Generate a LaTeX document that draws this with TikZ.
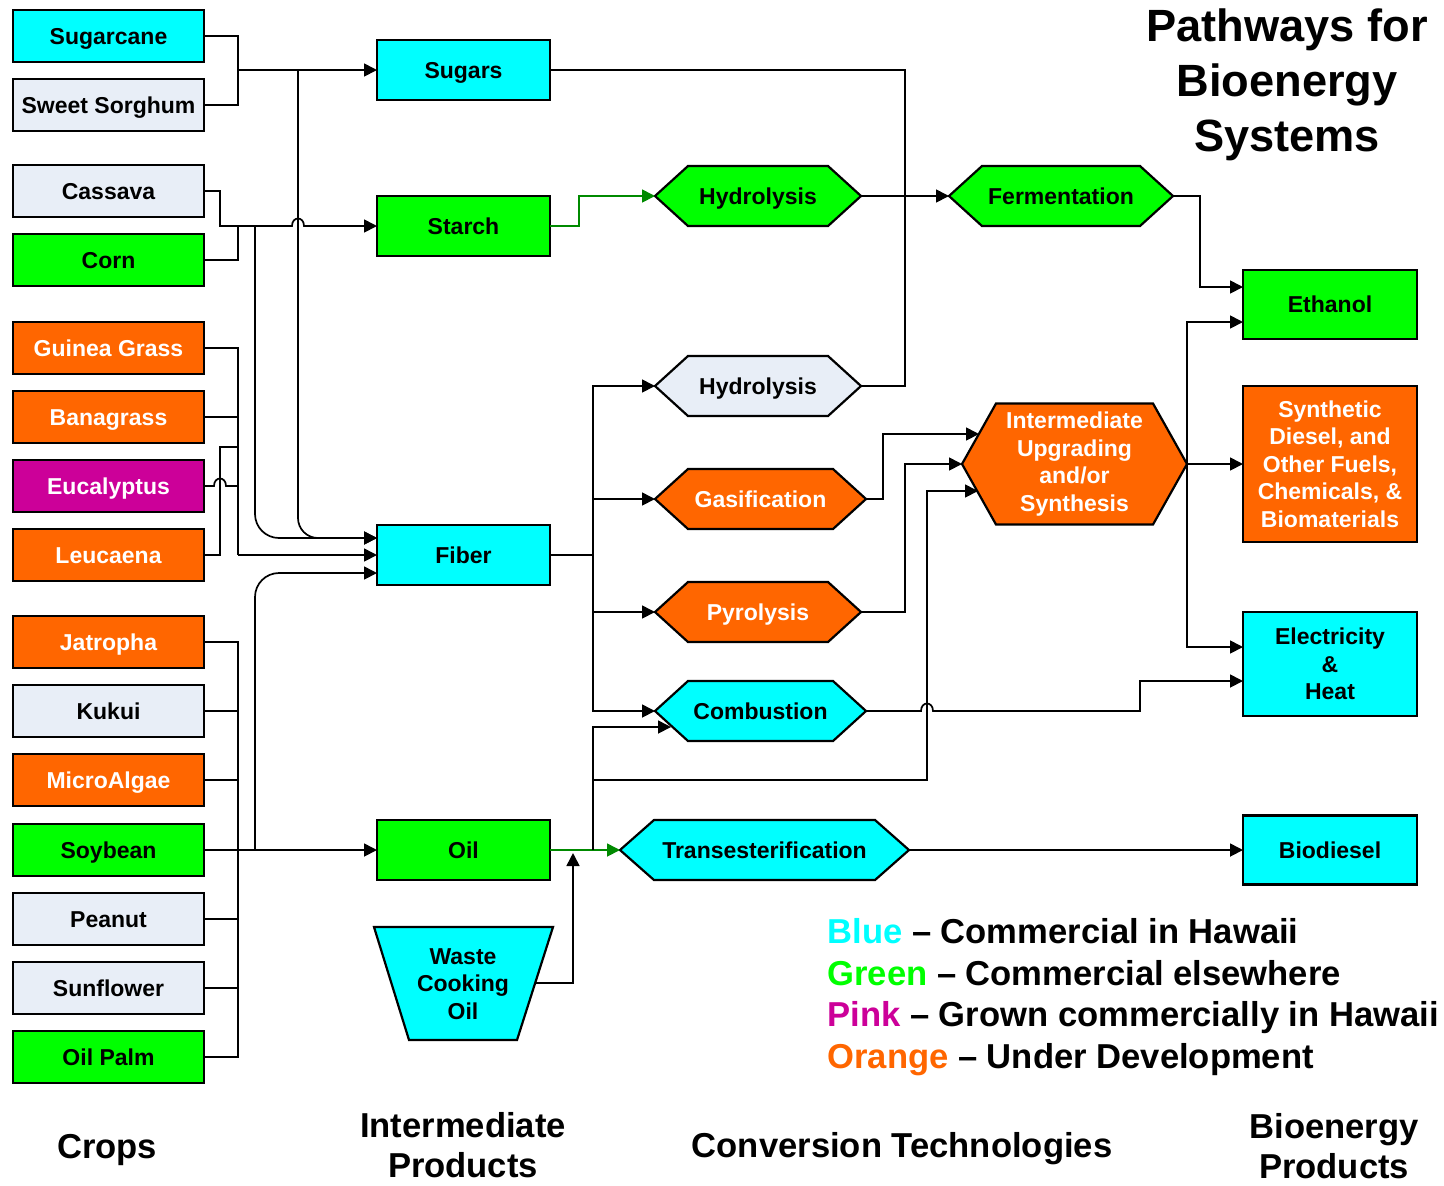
\documentclass[tikz,border=0pt]{standalone}
\usepackage{fontspec}
\setmainfont{Liberation Sans}
\usetikzlibrary{arrows.meta}
\definecolor{cyanB}{HTML}{00FFFF}
\definecolor{grayB}{HTML}{E8EEF7}
\definecolor{greenB}{HTML}{00FF00}
\definecolor{orangeB}{HTML}{FF6600}
\definecolor{pinkB}{HTML}{CC0099}
\definecolor{arrgreen}{HTML}{008A00}
\pgfdeclarelayer{canvas}
\pgfdeclarelayer{shapes}
\pgfsetlayers{canvas,shapes,main}
\newcommand{\hexshape}[3]{%
  \begin{pgfonlayer}{shapes}
  \draw[line width=1.1pt,fill=#3,line join=miter] (#1.west) -- ([xshift=#2]#1.north west) -- ([xshift=-#2]#1.north east) -- (#1.east) -- ([xshift=-#2]#1.south east) -- ([xshift=#2]#1.south west) -- cycle;
  \end{pgfonlayer}}
\newcommand{\nodefont}{\bfseries\fontsize{11.5}{13.8}\selectfont}
\begin{document}
\begin{tikzpicture}[x=0.5pt,y=-0.5pt,
  box/.style={draw, line width=1.1pt, inner sep=0pt, outer sep=0pt, font=\nodefont, align=center},
  sl/.style={text height=9.5pt, text depth=1.2pt},
  crop/.style={box, sl, minimum width=95.5pt, minimum height=26pt},
  inter/.style={box, sl, minimum width=86.5pt, minimum height=30pt},
  prod/.style={box, minimum width=87pt},
  hexn/.style={inner sep=0pt, outer sep=0pt, minimum height=30pt, font=\nodefont, align=center},
  ln/.style={line width=0.85pt, line join=miter},
  arr/.style={-{Triangle[length=6.5pt,width=6.5pt]}},
  garr/.style={line width=0.85pt, draw=arrgreen, -{Triangle[length=6.5pt,width=6.5pt,fill=arrgreen]}},
  lbl/.style={font=\bfseries\fontsize{17.3}{20.3}\selectfont, align=center, inner sep=0pt}
]
\begin{pgfonlayer}{canvas}\fill[white] (0,0) rectangle (1444,1185);\end{pgfonlayer}
\useasboundingbox (0,0) rectangle (1444,1185);

% ---------- crops ----------
\node[crop, fill=cyanB] (sugarcane) at (108.5,36) {Sugarcane};
\node[crop, fill=grayB] (sorghum) at (108.5,105) {Sweet Sorghum};
\node[crop, fill=grayB] (cassava) at (108.5,191) {Cassava};
\node[crop, fill=greenB] (corn) at (108.5,260) {Corn};
\node[crop, fill=orangeB, text=white] (guinea) at (108.5,348) {Guinea Grass};
\node[crop, fill=orangeB, text=white] (bana) at (108.5,417) {Banagrass};
\node[crop, fill=pinkB, text=white] (euca) at (108.5,486) {Eucalyptus};
\node[crop, fill=orangeB, text=white] (leuc) at (108.5,555) {Leucaena};
\node[crop, fill=orangeB, text=white] (jatropha) at (108.5,642) {Jatropha};
\node[crop, fill=grayB] (kukui) at (108.5,711) {Kukui};
\node[crop, fill=orangeB, text=white] (algae) at (108.5,780) {MicroAlgae};
\node[crop, fill=greenB] (soy) at (108.5,850) {Soybean};
\node[crop, fill=grayB] (peanut) at (108.5,919) {Peanut};
\node[crop, fill=grayB] (sunflower) at (108.5,988) {Sunflower};
\node[crop, fill=greenB] (oilpalm) at (108.5,1057) {Oil Palm};

% ---------- intermediate products ----------
\node[inter, fill=cyanB] (sugars) at (463.5,70) {Sugars};
\node[inter, fill=greenB] (starch) at (463.5,226) {Starch};
\node[inter, fill=cyanB] (fiber) at (463.5,555) {Fiber};
\node[inter, fill=greenB] (oil) at (463.5,850) {Oil};
\begin{pgfonlayer}{shapes}
\draw[line width=1.1pt, fill=cyanB, line join=miter] (374,927) -- (553,927) -- (517,1040) -- (409,1040) -- cycle;
\end{pgfonlayer}
\node[hexn] (waste) at (463,984) {Waste\\Cooking\\Oil};
\coordinate (wasteR) at (535,983);

% ---------- conversion technologies ----------
\node[hexn, sl, minimum width=103pt] (hydA) at (758,196) {Hydrolysis};
\hexshape{hydA}{16.5pt}{greenB}
\node[hexn, sl, minimum width=103pt] (hydB) at (758,386) {Hydrolysis};
\hexshape{hydB}{16.5pt}{grayB}
\node[hexn, sl, minimum width=105.5pt, text=white] (gasif) at (760.5,499) {Gasification};
\hexshape{gasif}{16.5pt}{orangeB}
\node[hexn, sl, minimum width=103pt, text=white] (pyro) at (758,612) {Pyrolysis};
\hexshape{pyro}{16.5pt}{orangeB}
\node[hexn, sl, minimum width=105.5pt] (comb) at (760.5,711) {Combustion};
\hexshape{comb}{16.5pt}{cyanB}
\node[hexn, sl, minimum width=144.5pt] (trans) at (764.5,850) {Transesterification};
\hexshape{trans}{17pt}{cyanB}
\node[hexn, sl, minimum width=112pt] (ferm) at (1061,196) {Fermentation};
\hexshape{ferm}{16.5pt}{greenB}
\node[hexn, minimum width=112.5pt, minimum height=60.5pt, text=white] (upgr) at (1074.5,464) {Intermediate\\Upgrading\\and/or\\Synthesis};
\hexshape{upgr}{17pt}{orangeB}

% ---------- bioenergy products ----------
\node[prod, sl, fill=greenB, minimum height=34.5pt] (ethanol) at (1330,304.5) {Ethanol};
\node[prod, fill=orangeB, text=white, minimum height=78pt] (synth) at (1330,464) {Synthetic\\Diesel, and\\Other Fuels,\\Chemicals, \&\\Biomaterials};
\node[prod, fill=cyanB, minimum height=52pt] (elec) at (1330,664) {Electricity\\\&\\Heat};
\node[prod, sl, fill=cyanB, minimum height=34.5pt] (biodiesel) at (1330,850) {Biodiesel};

\coordinate (fibA) at ([yshift=8.5pt]fiber.west);
\coordinate (fibC) at ([yshift=-9pt]fiber.west);
\coordinate (eth1) at ([yshift=8.75pt]ethanol.west);
\coordinate (eth2) at ([yshift=-8.75pt]ethanol.west);
\coordinate (el1) at ([yshift=8.5pt]elec.west);
\coordinate (el2) at ([yshift=-8.5pt]elec.west);

% ---------- crop connectors ----------
\coordinate (j1) at (238,70);
\draw[ln] (sugarcane.east) -| (j1);
\draw[ln] (sorghum.east) -| (j1);
\draw[ln,arr] (j1) -- (sugars.west);
\draw[ln,arr,rounded corners=10pt] (298,70) -- (298,538) -- (fibA);

\coordinate (j2) at (238,226);
\draw[ln] (cassava.east) -- (220,191) -- (220,226) -- (j2);
\draw[ln] (corn.east) -| (j2);
\draw[ln,arr] (j2) -- (292,226) .. controls (292,216) and (304,216) .. (304,226) -- (starch.west);
\draw[ln,arr,rounded corners=12pt] (255,226) -- (255,538) -- (fibA);

\coordinate (j3) at (238,555);
\draw[ln] (guinea.east) -- (238,348) -- (j3);
\draw[ln,arr] (j3) -- (fiber.west);
\draw[ln] (bana.east) -- (238,417);
\draw[ln] (euca.east) -- (214,486) .. controls (214,476) and (226,476) .. (226,486) -- (238,486);
\draw[ln] (leuc.east) -- (220,555) -- (220,447) -- (238,447);

\draw[ln] (jatropha.east) -- (238,642) -- (238,1057) -- (oilpalm.east);
\foreach \n in {kukui,algae,peanut,sunflower} \draw[ln] (\n.east) -- (\n.east -| j3);
\draw[ln,arr] (soy.east) -- (oil.west);
\draw[ln,arr,rounded corners=12pt] (255,850) -- (255,573) -- (fibC);

% ---------- intermediate -> conversion ----------
\draw[garr] (starch.east) -- (579,226) -- (579,196) -- (hydA.west);
\draw[ln] (sugars.east) -- (905,70) -- (905,386) -- (hydB.east);
\draw[ln,arr] (hydA.east) -- (ferm.west);
\draw[ln] (fiber.east) -- (593,555);
\draw[ln,arr] (593,555) |- (hydB.west);
\draw[ln,arr] (593,555) |- (gasif.west);
\draw[ln,arr] (593,555) |- (pyro.west);
\draw[ln,arr] (593,555) |- (comb.west);
\draw[garr] (oil.east) -- (trans.west);
\draw[ln,arr] (wasteR) -- (573,983) -- (573,853);
\draw[ln,arr] (593,850) -- (593,727) -- (671,727);
\draw[ln,arr] (593,780) -- (927,780) -- (927,491) -- (978,491);
\draw[ln,arr] (gasif.east) -- (883,499) -- (883,434) -- (979,434);
\draw[ln,arr] (pyro.east) -- (905,612) -- (905,464) -- (upgr.west);

% ---------- conversion -> products ----------
\draw[ln,arr] (ferm.east) -- (1200,196) -- (1200,287) -- (eth1);
\draw[ln,arr] (upgr.east) -- (synth.west);
\draw[ln,arr] (upgr.east) -- (1187,464) -- (1187,322) -- (eth2);
\draw[ln,arr] (1187,464) -- (1187,647) -- (el1);
\draw[ln,arr] (comb.east) -- (921,711) .. controls (921,701) and (933,701) .. (933,711) -- (1140,711) -- (1140,681) -- (el2);
\draw[ln,arr] (trans.east) -- (biodiesel.west);

% ---------- title ----------
\node[font=\bfseries\fontsize{22.6}{27.5}\selectfont, align=center, inner sep=0pt] (title) at (1287,85) {Pathways for\\Bioenergy\\Systems};

% ---------- legend ----------
\node[lbl, anchor=base west] (lg1) at (827,943) {\textcolor{cyanB}{Blue} -- Commercial in Hawaii};
\node[lbl, anchor=base west] (lg2) at (827,985) {\textcolor{greenB}{Green} -- Commercial elsewhere};
\node[lbl, anchor=base west] (lg3) at (827,1026) {\textcolor{pinkB}{Pink} -- Grown commercially in Hawaii};
\node[lbl, anchor=base west] (lg4) at (827,1068) {\textcolor{orangeB}{Orange} -- Under Development};

% ---------- column labels ----------
\node[lbl] (c1) at (107,1150) {Crops};
\node[lbl] (c2) at (463,1145) {Intermediate\\Products};
\node[lbl] (c3) at (902,1149) {Conversion Technologies};
\node[lbl] (c4) at (1334,1146) {Bioenergy\\Products};
\end{tikzpicture}
\end{document}
